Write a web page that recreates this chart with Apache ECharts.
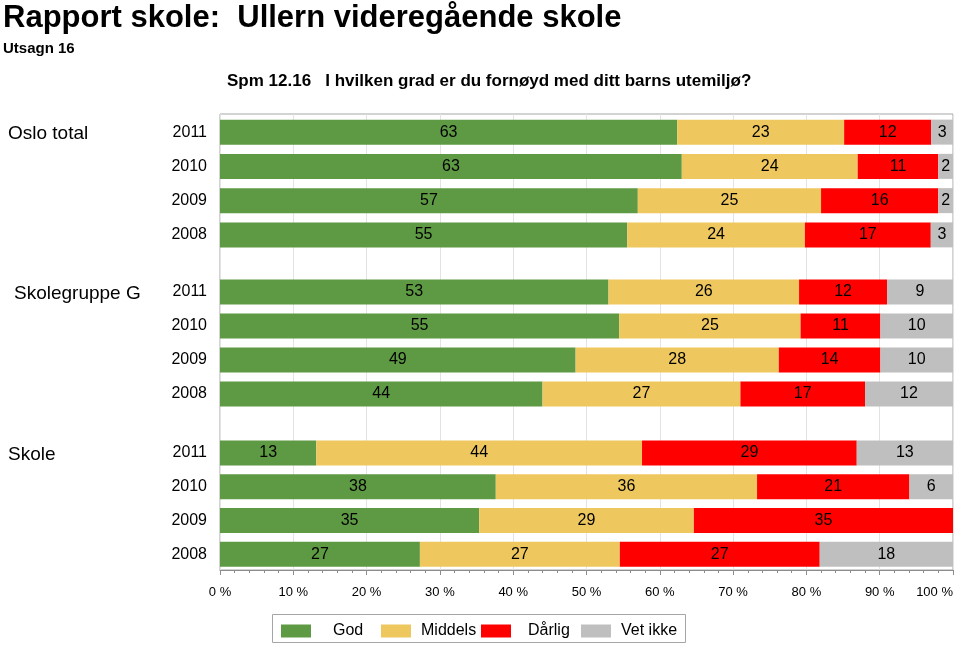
<!DOCTYPE html>
<html>
<head>
<meta charset="utf-8">
<script src="https://cdn.jsdelivr.net/npm/echarts@6/dist/echarts.min.js"></script>
<style>html,body{margin:0;padding:0;background:#fff}#c{width:960px;height:645px}</style>
</head>
<body>
<div id="c"></div>
<script>
// ---- data ----
const years = ['2011', '2010', '2009', '2008'];
const groups = ['Oslo total', 'Skolegruppe G', 'Skole'];
const seriesNames = ['God', 'Middels', 'Dårlig', 'Vet ikke'];
const xTicks = ['0 %','10 %','20 %','30 %','40 %','50 %','60 %','70 %','80 %','90 %','100 %'];

const osloGod     = [63, 63, 57, 55];
const osloMiddels = [23, 24, 25, 24];
const osloDarlig  = [12, 11, 16, 17];
const osloVetIkke = [3, 2, 2, 3];

const sgGod     = [53, 55, 49, 44];
const sgMiddels = [26, 25, 28, 27];
const sgDarlig  = [12, 11, 14, 17];
const sgVetIkke = [9, 10, 10, 12];

const skGod     = [13, 38, 35, 27];
const skMiddels = [44, 36, 29, 27];
const skDarlig  = [29, 21, 35, 27];
const skVetIkke = [13, 6, 0, 18];

const groupData = [
  [osloGod, osloMiddels, osloDarlig, osloVetIkke],
  [sgGod, sgMiddels, sgDarlig, sgVetIkke],
  [skGod, skMiddels, skDarlig, skVetIkke]
];

// ---- styling / layout ----
const colors = ['#5e9a43', '#eec75f', '#ff0000', '#bfbfbf'];
const FONT = '"Liberation Sans", Arial, Helvetica, sans-serif';
const plotLeft = 220, plotWidth = 733;
const gridLayout = [
  { top: 115, height: 137, nameX: 8 },
  { top: 275, height: 136, nameX: 14 },
  { top: 436, height: 135, nameX: 8 }
];
const legendTextPad = [17, 5, 12, 5];

const grids = [{ left: plotLeft, width: plotWidth, top: 114, height: 456, show: true, borderColor: '#a6a6a6', borderWidth: 1, outerBoundsMode: 'none', containLabel: false }];
const xAxes = [{
  gridIndex: 0, type: 'value', min: 0, max: 100, interval: 10,
  axisLine: { show: true, lineStyle: { color: '#8c8c8c' } },
  axisTick: { show: true, length: 5, lineStyle: { color: '#8c8c8c' } },
  minorTick: { show: true, splitNumber: 5, length: 3, lineStyle: { color: '#8c8c8c' } },
  splitLine: { show: true, lineStyle: { color: '#e3e3e3' } },
  axisLabel: { margin: 16, fontSize: 13, color: '#000', fontFamily: FONT, alignMaxLabel: 'right',
    formatter: function (v) { return xTicks[Math.round(v / 10)]; } }
}];
const yAxes = [{ gridIndex: 0, type: 'value', show: false, min: 0, max: 1 }];
const series = [];
const graphics = [];

groupData.forEach(function (g, gi) {
  const L = gridLayout[gi];
  grids.push({ left: plotLeft, width: plotWidth, top: L.top, height: L.height, outerBoundsMode: 'none', containLabel: false });
  xAxes.push({ gridIndex: gi + 1, type: 'value', min: 0, max: 100, show: false });
  yAxes.push({
    gridIndex: gi + 1, type: 'category', data: years, inverse: true,
    axisLine: { show: false }, axisTick: { show: false }, splitLine: { show: false },
    axisLabel: { margin: 13, fontSize: 16, color: '#000', fontFamily: FONT }
  });
  const sums = years.map(function (_, i) { return g.reduce(function (s, arr) { return s + arr[i]; }, 0); });
  g.forEach(function (vals, si) {
    series.push({
      name: seriesNames[si], type: 'bar', stack: 'g' + gi,
      xAxisIndex: gi + 1, yAxisIndex: gi + 1,
      barWidth: 25,
      itemStyle: { color: colors[si] },
      label: {
        show: true, position: 'inside', color: '#000', fontSize: 16, fontFamily: FONT,
        formatter: function (p) { return vals[p.dataIndex] ? String(vals[p.dataIndex]) : ''; }
      },
      data: vals.map(function (v, i) { return v ? v / sums[i] * 100 : null; })
    });
  });
  graphics.push({
    type: 'text', left: L.nameX, top: L.top + L.height / years.length / 2 - 8,
    style: { text: groups[gi], font: '19px ' + FONT, fill: '#000' }
  });
});

graphics.push(
  { type: 'text', left: 3, top: 3, style: { text: 'Rapport skole:  Ullern videregående skole', font: 'bold 31px ' + FONT, fill: '#000' } },
  { type: 'text', left: 3, top: 41, style: { text: 'Utsagn 16', font: 'bold 15px ' + FONT, fill: '#000' } },
  { type: 'text', left: 227, top: 73, style: { text: 'Spm 12.16   I hvilken grad er du fornøyd med ditt barns utemiljø?', font: 'bold 17px ' + FONT, fill: '#000' } },
  { type: 'rect', shape: { x: 272.5, y: 614.5, width: 413, height: 28 }, style: { fill: 'none', stroke: '#a6a6a6', lineWidth: 1 }, z: 0 }
);

const legends = seriesNames.map(function (n, i) {
  return {
    data: [n], left: 281 + 100 * i, top: 623, padding: 0,
    itemWidth: 30, itemHeight: 13, icon: 'rect',
    textStyle: { fontSize: 16, color: '#000', fontFamily: FONT, padding: [0, 0, 0, legendTextPad[i]] }
  };
});

const chart = echarts.init(document.getElementById('c'), null, { renderer: 'canvas' });
chart.setOption({
  animation: false,
  color: colors,
  grid: grids,
  xAxis: xAxes,
  yAxis: yAxes,
  series: series,
  graphic: graphics,
  legend: legends
});
</script>
</body>
</html>
